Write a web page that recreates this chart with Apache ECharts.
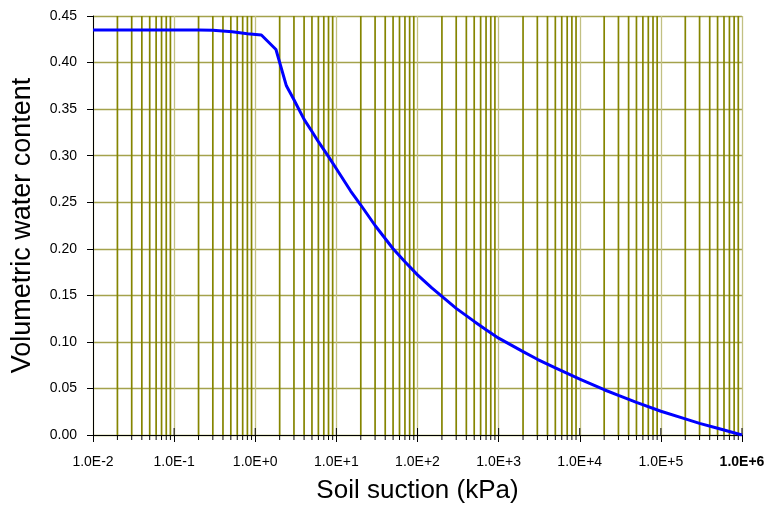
<!DOCTYPE html>
<html>
<head>
<meta charset="utf-8">
<script src="https://cdn.jsdelivr.net/npm/echarts@6/dist/echarts.min.js"></script>
<style>
html,body{margin:0;padding:0;background:#fff;}
#chart{width:768px;height:505px;}
</style>
</head>
<body>
<div id="chart"></div>
<script>
// ---- data ----
const suction = [0.01, 0.1, 0.2, 0.3, 0.52, 0.8, 1.19, 1.8, 2.42, 3, 4, 5, 6, 8, 10, 15, 20, 30, 50, 70, 100, 150, 200, 300, 500, 700, 1000, 2000, 3000, 5000, 10000, 20000, 30000, 50000, 100000, 200000, 300000, 500000, 1000000];
const theta   = [0.435, 0.435, 0.435, 0.4347, 0.4331, 0.431, 0.4296, 0.414, 0.375, 0.360, 0.339, 0.326, 0.315, 0.299, 0.286, 0.262, 0.247, 0.225, 0.200, 0.186, 0.172, 0.158, 0.1488, 0.136, 0.122, 0.113, 0.104, 0.0895, 0.0813, 0.072, 0.060, 0.0486, 0.0425, 0.035, 0.0255, 0.0173, 0.0125, 0.0073, 0.0];
const decades = [0.01, 0.1, 1, 10, 100, 1000, 10000, 100000, 1000000];
const minorMultipliers = [2, 3, 4, 5, 6, 7, 8, 9];
const xTitle = 'Soil suction (kPa)';
const yTitle = 'Volumetric water content';

// minor gridline positions (2..9 of each decade)
const minorValues = [];
decades.slice(0, -1).forEach(d => minorMultipliers.forEach(m => minorValues.push([d * m])));
const majorValues = decades.map(d => [d]);

const FONT = 'Liberation Sans, Arial, sans-serif';
const chart = echarts.init(document.getElementById('chart'));

function fmtExp(v) {
  const e = Math.round(Math.log10(v));
  return '1.0E' + (e >= 0 ? '+' : '-') + Math.abs(e);
}

chart.setOption({
  animation: false,
  backgroundColor: '#fff',
  grid: { left: 93, right: 26, top: 16, bottom: 70, containLabel: false, outerBoundsMode: 'none' },
  xAxis: {
    type: 'log', logBase: 10, min: 0.01, max: 1000000, splitNumber: 8,
    name: xTitle, nameLocation: 'middle', nameGap: 43,
    nameTextStyle: { fontFamily: FONT, fontSize: 26, color: '#000' },
    axisLine: { show: true, onZero: false, lineStyle: { color: '#000', width: 1 } },
    axisTick: { show: true, inside: false, length: 7, lineStyle: { color: '#000' } },
    axisLabel: {
      margin: 20, fontFamily: FONT, fontSize: 14, color: '#000',
      showMinLabel: true, showMaxLabel: true,
      formatter: function (v) {
        const s = fmtExp(v);
        return Math.round(Math.log10(v)) === 6 ? '{b|' + s + '}' : s;
      },
      rich: { b: { fontFamily: FONT, fontSize: 14, fontWeight: 'bold', color: '#000' } }
    },
    splitLine: { show: true, lineStyle: { color: '#c2c083', width: 1.3 } },
    minorTick: { show: false }, minorSplitLine: { show: false }
  },
  yAxis: {
    type: 'value', min: 0, max: 0.45, interval: 0.05,
    name: yTitle, nameLocation: 'middle', nameGap: 57,
    nameTextStyle: { fontFamily: FONT, fontSize: 27, color: '#000' },
    axisLine: { show: true, lineStyle: { color: '#000', width: 1 } },
    axisTick: { show: true, inside: false, length: 6, lineStyle: { color: '#000' } },
    axisLabel: {
      margin: 16, fontFamily: FONT, fontSize: 14, color: '#000',
      formatter: v => v.toFixed(2)
    },
    splitLine: { show: true, lineStyle: { color: '#a4a24c', width: 1.3 } }
  },
  series: [
    {
      type: 'custom', name: 'minorGrid', data: minorValues, z: 1, silent: true, clip: false,
      encode: { x: 0 },
      renderItem: function (params, api) {
        const v = api.value(0);
        const top = api.coord([v, 0.45]);
        const bot = api.coord([v, 0]);
        return {
          type: 'group',
          children: [
            { type: 'line', shape: { x1: top[0], y1: top[1], x2: bot[0], y2: bot[1] },
              style: { stroke: '#858500', lineWidth: 1.7 } },
            { type: 'line', shape: { x1: bot[0], y1: bot[1], x2: bot[0], y2: bot[1] + 5 },
              style: { stroke: '#000', lineWidth: 1 } }
          ]
        };
      }
    },
    {
      type: 'custom', name: 'majorTickInner', data: majorValues.slice(1), z: 4, silent: true, clip: false,
      encode: { x: 0 },
      renderItem: function (params, api) {
        const v = api.value(0);
        const bot = api.coord([v, 0]);
        return { type: 'line', shape: { x1: bot[0], y1: bot[1], x2: bot[0], y2: bot[1] - 7 },
                 style: { stroke: '#000', lineWidth: 1 } };
      }
    },
    {
      type: 'line', name: 'SWCC', z: 5,
      data: suction.map((s, i) => [s, theta[i]]),
      showSymbol: false, symbol: 'none', smooth: false,
      lineStyle: { color: '#0000ff', width: 3 }
    }
  ]
});
</script>
</body>
</html>
